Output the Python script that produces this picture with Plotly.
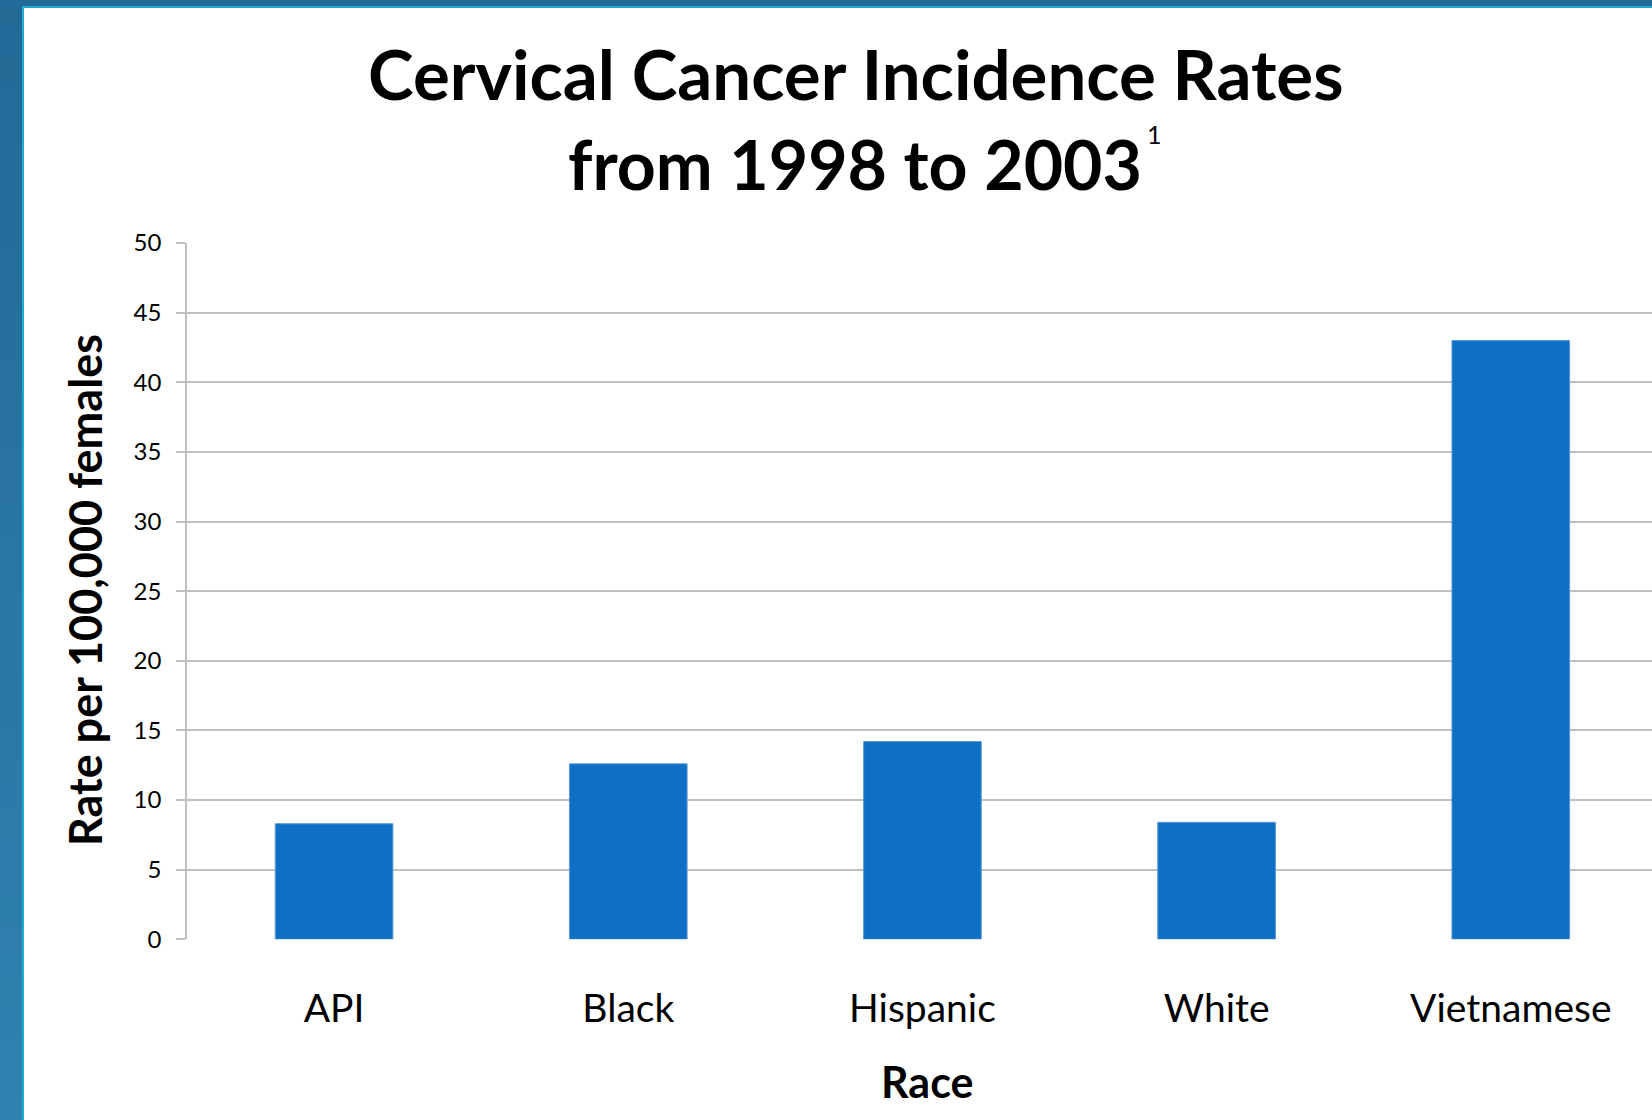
import plotly.graph_objects as go

# Cervical cancer incidence, rate per 100,000 females, 1998-2003
races = ["API", "Black", "Hispanic", "White", "Vietnamese"]
rates = [8.3, 12.6, 14.2, 8.4, 43.0]
y_ticks = [0, 5, 10, 15, 20, 25, 30, 35, 40, 45, 50]

W, H = 1652, 1120
FONT = "Lato"

def px_x(p):
    return p / W

def px_y(p):
    return 1 - p / H

fig = go.Figure(
    go.Bar(
        x=races,
        y=rates,
        width=0.4,
        marker=dict(color="#0f6fc6", line=dict(color="#5b9bd5", width=1)),
        hoverinfo="x+y",
    )
)

# Slide frame: gradient band on the left, thin band on top, cyan rules
shapes = []
n = 40
top_rgb = (0x22, 0x69, 0x96)
bot_rgb = (0x30, 0x81, 0xb0)
for i in range(n):
    t = i / (n - 1)
    c = tuple(round(a + (b - a) * t) for a, b in zip(top_rgb, bot_rgb))
    shapes.append(dict(
        type="rect", xref="paper", yref="paper",
        x0=0, x1=px_x(22), y0=px_y(H * (i + 1) / n + 1), y1=px_y(H * i / n),
        fillcolor="rgb(%d,%d,%d)" % c, line=dict(width=0), layer="above",
    ))
shapes += [
    dict(type="rect", xref="paper", yref="paper", x0=0, x1=1, y0=px_y(6), y1=1,
         fillcolor="#236b98", line=dict(width=0), layer="above"),
    dict(type="rect", xref="paper", yref="paper", x0=px_x(22), x1=px_x(24),
         y0=0, y1=px_y(6), fillcolor="#1fadcf", line=dict(width=0), layer="above"),
    dict(type="rect", xref="paper", yref="paper", x0=px_x(22), x1=1,
         y0=px_y(8), y1=px_y(6), fillcolor="#1fadcf", line=dict(width=0), layer="above"),
]

annotations = [
    dict(text="<b>Cervical Cancer Incidence Rates</b>", x=px_x(855), y=px_y(74),
         xref="paper", yref="paper", xanchor="center", yanchor="middle",
         showarrow=False, font=dict(family=FONT, size=69, color="#000")),
    dict(text="<b>from 1998 to 2003</b>", x=px_x(855), y=px_y(163),
         xref="paper", yref="paper", xanchor="center", yanchor="middle",
         showarrow=False, font=dict(family=FONT, size=68, color="#000")),
    dict(text="1", x=px_x(1154), y=px_y(134),
         xref="paper", yref="paper", xanchor="center", yanchor="middle",
         showarrow=False, font=dict(family=FONT, size=25, color="#000")),
    dict(text="<b>Rate per 100,000 females</b>", x=px_x(85), y=px_y(590),
         xref="paper", yref="paper", xanchor="center", yanchor="middle",
         textangle=-90, showarrow=False, font=dict(family=FONT, size=45, color="#000")),
    dict(text="<b>Race</b>", x=px_x(927), y=px_y(1081),
         xref="paper", yref="paper", xanchor="center", yanchor="middle",
         showarrow=False, font=dict(family=FONT, size=43, color="#000")),
]

fig.update_layout(
    template="none",
    width=W, height=H, autosize=False,
    margin=dict(l=0, r=0, t=0, b=0, pad=0),
    paper_bgcolor="white", plot_bgcolor="white",
    showlegend=False,
    shapes=shapes,
    annotations=annotations,
    xaxis=dict(
        domain=[px_x(187), 1],
        range=[-0.5, 4.48],
        automargin=False,
        showgrid=False, zeroline=False,
        showline=False, ticks="",
        ticklabelstandoff=43,
        tickfont=dict(family=FONT, size=39, color="#000"),
        fixedrange=True,
    ),
    yaxis=dict(
        domain=[px_y(939.3), px_y(243)],
        range=[0, 50],
        tickvals=y_ticks,
        automargin=False,
        showgrid=True, gridcolor="#c0c0c0", gridwidth=1.5,
        zeroline=False,
        showline=True, linecolor="#c0c0c0", linewidth=1.5,
        ticks="outside", ticklen=9, tickcolor="#c0c0c0", tickwidth=1.5,
        ticklabelstandoff=10,
        tickfont=dict(family=FONT, size=24, color="#000"),
        fixedrange=True,
    ),
)

fig.write_html("out.html")
